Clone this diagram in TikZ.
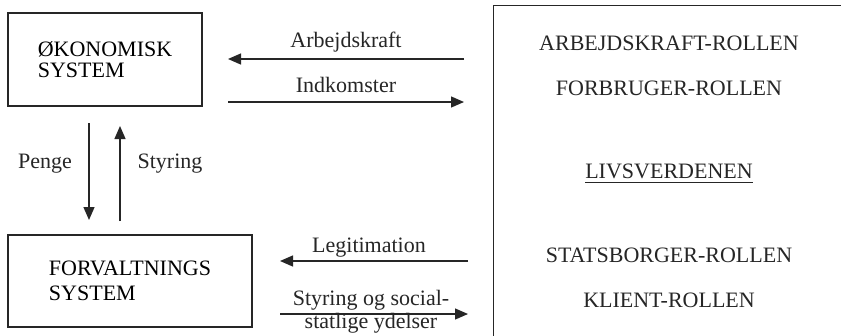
\documentclass[tikz,border=0pt]{standalone}
\usepackage{fontspec}
\setmainfont{Liberation Serif}
\usetikzlibrary{arrows.meta}
\begin{document}
\begin{tikzpicture}[x=1pt,y=-1pt,
  txt/.style={font=\fontsize{22}{23}\selectfont, inner sep=0pt, text=black!85},
  box/.style={draw=black!85, line width=1.4pt, inner sep=0pt, align=left},
  arr/.style={draw=black!85, line width=1.3pt, -{Triangle[length=13pt,width=11pt]}}]
\clip (0,0) rectangle (841,335);
\fill[white] (0,0) rectangle (841,335);
% boxes
\node[box, minimum width=194pt, minimum height=93pt,
      font=\fontsize{22}{21.5}\selectfont] (eco) at (105,59.5) {ØKONOMISK\\SYSTEM};
\node[box, minimum width=244pt, minimum height=92pt,
      font=\fontsize{22}{25}\selectfont] (forv) at (130,281) {FORVALTNINGS\\SYSTEM};
\node[draw=black!85, line width=1.4pt, anchor=north west, minimum width=400pt,
      minimum height=400pt, inner sep=0pt] (life) at (493,5) {};
% roles
\node[txt, anchor=base] (r1) at (669,50) {ARBEJDSKRAFT-ROLLEN};
\node[txt, anchor=base] (r2) at (669,95) {FORBRUGER-ROLLEN};
\node[txt, anchor=base] (lv) at (669,178) {LIVSVERDENEN};
\draw[black!85, line width=1pt] ([yshift=-4pt]lv.base west) -- ([yshift=-4pt]lv.base east);
\node[txt, anchor=base] (r3) at (669,262) {STATSBORGER-ROLLEN};
\node[txt, anchor=base] (r4) at (669,307) {KLIENT-ROLLEN};
% arrow end points
\coordinate (a1s) at (464,59);  \coordinate (a1e) at (228,59);
\coordinate (a2s) at (228,102); \coordinate (a2e) at (464,102);
\coordinate (p1s) at (89,123);  \coordinate (p1e) at (89,220);
\coordinate (p2s) at (120,221); \coordinate (p2e) at (120,126);
\coordinate (a3s) at (468,261); \coordinate (a3e) at (280,261);
\coordinate (a4s) at (280,314); \coordinate (a4e) at (468,314);
% arrows
\draw[arr] (a1s) -- (a1e);
\draw[arr] (a2s) -- (a2e);
\draw[arr] (p1s) -- (p1e);
\draw[arr] (p2s) -- (p2e);
\draw[arr] (a3s) -- (a3e);
\draw[arr] (a4s) -- (a4e);
% labels
\node[txt, anchor=base] (lArb) at (346,47) {Arbejdskraft};
\node[txt, anchor=base] (lInd) at (346,92) {Indkomster};
\node[txt, anchor=base] (lPen) at (45,168) {Penge};
\node[txt, anchor=base] (lSty) at (170,168) {Styring};
\node[txt, anchor=base] (lLeg) at (369,252) {Legitimation};
\node[txt, anchor=base] (lSo1) at (371,305) {Styring og social-};
\node[txt, anchor=base] (lSo2) at (371,328) {statlige ydelser};
\end{tikzpicture}
\end{document}
